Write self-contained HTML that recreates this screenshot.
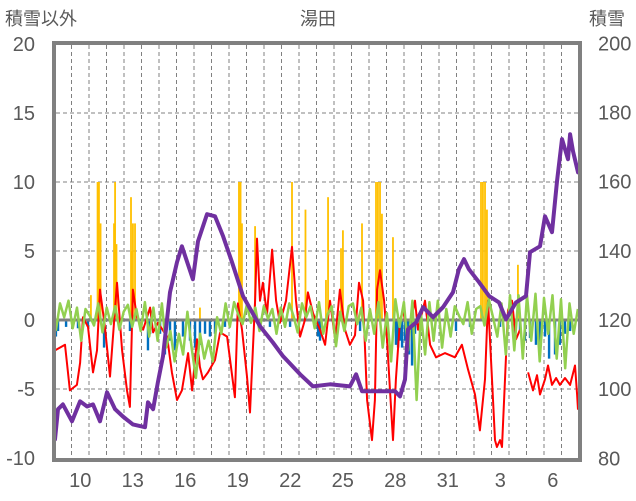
<!DOCTYPE html>
<html><head><meta charset="utf-8"><style>
html,body{margin:0;padding:0;background:#fff;}
svg{display:block;font-family:"Liberation Sans","Noto Sans CJK JP",sans-serif;}
</style></head><body>
<svg id="chart" width="636" height="501" viewBox="0 0 636 501" xmlns="http://www.w3.org/2000/svg">
<text x="5" y="25" font-size="18" fill="#595959">積雪以外</text>
<text x="318" y="25" font-size="18" fill="#595959" text-anchor="middle">湯田</text>
<text x="589" y="25" font-size="18" fill="#595959">積雪</text>
<g id="grid"></g>
<g id="bars"></g>
<line x1="54" y1="320" x2="580" y2="320" stroke="#808080" stroke-width="3"/>
<g id="lines"></g>
<rect x="54" y="43" width="526" height="417" fill="none" stroke="#808080" stroke-width="4"/>
<g id="axes"></g>
</svg>
<script>
const leftTicks=[20,15,10,5,0,-5,-10];
const rightTicks=[200,180,160,140,120,100,80];
const xLabelDays=[0,3,6,9,12,15,18,21,24,27];
const xLabels=["10","13","16","19","22","25","28","31","3","6"];
const purpleT=[-0.94,-0.77,-0.49,0.03,0.49,0.89,1.23,1.63,2.03,2.49,2.94,3.51,4.2,4.37,4.66,4.94,5.23,5.63,6.03,6.31,6.94,7.23,7.74,8.2,8.66,9.17,9.8,10.77,11.51,12.09,13.06,13.8,14.77,15.91,16.26,16.6,18.49,18.77,19.06,19.23,19.69,20.09,20.66,21.23,21.8,22.14,22.43,22.71,23.29,23.86,24.43,24.83,25.4,25.97,26.2,26.77,27.06,27.46,27.74,28.03,28.37,28.49,28.66,28.94];
const purpleV=[85.5,94.2,95.6,90.7,96.5,95.0,95.6,90.7,99.1,94.2,92.1,89.8,89.0,96.2,94.2,102.0,109.5,128.0,136.7,141.3,131.8,142.8,150.6,150.0,144.2,136.7,126.9,118.2,113.5,109.5,104.3,100.8,101.4,100.8,104.3,99.4,99.4,97.9,102.8,117.3,119.3,123.7,120.8,123.7,128.0,134.7,137.6,134.7,130.9,126.9,125.1,120.2,125.1,126.9,139.6,141.3,150.0,145.4,160.1,172.3,166.5,173.7,168.8,162.7];
const redT=[-0.94,-0.37,-0.09,0.31,0.49,0.66,0.94,1.23,1.46,1.63,1.91,2.2,2.6,2.89,3.17,3.34,3.51,3.74,4.09,4.49,4.66,4.94,5.46,5.74,6.03,6.31,6.66,6.89,7.17,7.34,7.51,7.8,8.2,8.49,8.89,9.34,9.51,9.74,10.03,10.2,10.49,10.6,10.77,10.94,11.17,11.46,11.69,11.91,12.26,12.6,12.83,13.06,13.34,13.51,13.8,14.2,14.49,14.77,15.06,15.34,15.63,15.91,16.2,16.43,16.66,16.89,17.17,17.34,17.46,17.63,17.86,18.03,18.2,18.37,18.54,18.77,18.94,19.23,19.63,19.8,20.2,20.49,20.83,21.34,21.91,22.31,22.66,23.06,23.34,23.63,23.8,24.03,24.2,24.31,24.49,24.6,24.77,24.94,25.17,25.4,25.63,25.8,26.09,26.37,26.6,26.77,27.06,27.23,27.46,27.69,27.91,28.2,28.49,28.77,28.89,28.94];
const redV=[-2.2,-1.8,-5.1,-4.7,-3.1,0.2,-0.5,-3.8,-2.2,2.2,-0.5,-4.1,2.7,-2.2,-5.1,-6.3,2.2,0.2,-0.7,0.9,-0.9,-0.2,-1.2,-3.8,-5.8,-5.1,-2.4,-5.1,-1.4,-3.4,-4.3,-3.8,-2.9,-0.9,-1.2,-5.6,1.2,-0.7,-4.1,-6.7,1.4,5.9,1.4,2.7,0.4,5.1,1.4,-0.2,1.4,5.3,1.4,-1.2,0,2.0,0.5,-0.7,-1.8,1.4,-1.4,2.2,-0.7,-1.8,-1.1,2.7,1.4,-5.8,-8.7,-5.8,2.2,3.6,1.4,-1.4,-5.1,-8.7,-4.3,0,0.7,-1.1,1.4,-0.7,1.4,-1.8,-2.7,-2.4,-2.7,-1.8,-3.6,-5.4,-8.0,-4.3,1.4,-4.3,-8.7,-9.2,-8.7,-9.2,-4.3,0.7,1.4,-1.4,-0.7,null,-3.8,-5.1,-4.0,-5.4,-4.3,-3.3,-4.7,-4.2,-4.7,-4.2,-4.7,-3.3,-5.4,-6.5];
const greenStart=-0.9;
const greenStep=0.2426;
const greenV=[-0.8,1.2,0.2,1.4, -0.6,0.9,-1.5,0.8, 0.3,-0.4,1.2,-0.9, 0.9,-0.3,1.0,-0.7, 0.6,1.1,-0.5,0.8, -0.8,1.3,-1.2,0.9, -1.5,1.2,-2.0,-0.8, -3.0,-1.0,-2.5,0.6, -2.0,-4.2,-1.0,-2.8, -1.5,-3.0,0.2,-1.0, 1.2,-0.5,1.3,0.4, -0.3,1.1,-0.2,0.9, -0.8,1.0,0.1,0.8, -1.0,0.9,-0.5,1.2, 0.3,-0.9,1.2,0.2, 1.0,-0.6,1.3,-1.0, 0.4,1.0,-1.9,0.6, -0.8,1.0,1.2,-0.3, 0.9,-1.5,0.8,-1.0, 1.3,-2.0,0.5,-3.0, 1.5,-0.5,1.3,-2.2, 1.4,-5.8,0.5,-2.5, 1.3,-1.5,1.4,-2.0, 0.8,-1.2,1.0,0.3, -0.3,1.3,-1.0,0.8, 1.0,-0.4,1.5,0.2, -1.2,1.2,-2.5,1.8, -2.2,1.8,-2.8,1.8, -1.5,1.9,-3.0,1.6, -1.0,1.8,-2.8,1.5, -3.5,1.2,-1.0,0.8];
const yellowT=[1.11,1.49,1.57,1.66,2.43,2.49,2.57,3.4,3.46,3.51,3.63,7.34,9.57,9.66,9.74,10.49,12.6,13.37,14.54,14.66,15.4,15.51,16.6,17.4,17.51,17.63,17.74,18.37,23.4,23.51,23.63,23.74,25.51];
const yellowV=[1.8,10,10,7,7,10,5.5,8.9,5,7,7,0.9,10,10,7,6.8,10,8,2.9,8.9,5.2,6.5,7,10,10,10,7.7,6,10,10,10,8,4];
const blueT=[-0.89,-0.77,-0.31,0.37,0.94,1.86,3.34,4.37,4.49,5.06,5.34,5.63,5.91,6.37,6.77,7.06,7.34,7.63,7.91,8.2,8.77,11.34,12.49,14.09,14.2,16.49,18.54,18.66,18.77,18.89,19.06,19.17,19.29,19.46,19.63,19.91,21.97,22.77,24.49,25.34,25.63,25.91,26.2,26.54,26.77,27.06,27.29,27.63,27.91,28.2,28.49];
const blueV=[-1.2,-0.8,-0.5,-0.6,-0.5,-2.0,-0.8,-2.2,-1.0,-1.0,-2.5,-1.5,-2.2,-1.2,-1.5,-2.0,-1.8,-1.0,-1.2,-1.0,-0.5,-0.5,-0.5,-1.2,-1.5,-0.8,-1.8,-2.0,-1.5,-2.0,-1.5,-1.8,-2.5,-3.3,-1.0,-0.8,-0.8,-0.5,-0.5,-1.0,-0.8,-1.5,-1.3,-1.8,-2.0,-1.2,-2.8,-2.5,-1.8,-1.0,-0.8];

const NS="http://www.w3.org/2000/svg";
function xOf(t){return 71.5+17.5*t;}
function yL(v){return 320-13.8*v;}
function yR(v){return 320-(v-120)*3.4583;}
function mk(tag,attrs,parent){const e=document.createElementNS(NS,tag);for(const k in attrs)e.setAttribute(k,attrs[k]);parent.appendChild(e);return e;}
const grid=document.getElementById('grid'),bars=document.getElementById('bars'),lines=document.getElementById('lines'),axes=document.getElementById('axes');
for(let k=0;k<=28;k++){
  const l=mk('line',{x1:xOf(k),x2:xOf(k),y1:45,y2:458,stroke:'#808080','stroke-width':1,'stroke-dasharray':'4,3'},grid);
  
  
}
leftTicks.forEach(v=>{
  if(v!==0&&v!==20&&v!==-10){
    const l=mk('line',{x1:56,x2:578,y1:yL(v),y2:yL(v),stroke:'#808080','stroke-width':1,'stroke-dasharray':'4,3'},grid);
    
    
  }
  const t=mk('text',{x:35,y:yL(v)+7,'font-size':20,fill:'#595959','text-anchor':'end'},axes);
  t.textContent=v;
  
  
});
rightTicks.forEach(v=>{
  const t=mk('text',{x:598,y:yR(v)+7,'font-size':20,fill:'#595959'},axes);
  t.textContent=v;
  
  
});
xLabelDays.forEach((d,i)=>{
  const t=mk('text',{x:xOf(d+0.5),y:487,'font-size':20,fill:'#595959','text-anchor':'middle'},axes);
  t.textContent=xLabels[i];
  
  
});
yellowT.forEach((t,i)=>{
  const y=yL(yellowV[i]);
  const r=mk('rect',{x:xOf(t)-0.9,y:y,width:1.8,height:320-y,fill:'#ffc000'},bars);
  
  
});
blueT.forEach((t,i)=>{
  const y=yL(blueV[i]);
  const r=mk('rect',{x:xOf(t)-1.2,y:320,width:2.4,height:y-320,fill:'#0070c0'},bars);
  
  
});
function pathFrom(ts,vs,yf){
  let d='',pen=false;
  ts.forEach((t,i)=>{
    if(vs[i]===null){pen=false;return;}
    d+=(pen?'L':'M')+xOf(t).toFixed(1)+','+yf(vs[i]).toFixed(1);pen=true;
  });
  return d;
}
const red=mk('path',{d:pathFrom(redT,redV,yL),fill:'none',stroke:'#ff0000','stroke-width':2,'stroke-linejoin':'round'},lines);


const greenT=greenV.map((v,i)=>greenStart+i*greenStep);
const green=mk('path',{d:pathFrom(greenT,greenV,yL),fill:'none',stroke:'#92d050','stroke-width':2.5,'stroke-linejoin':'round'},lines);


const purple=mk('path',{d:pathFrom(purpleT,purpleV,yR),fill:'none',stroke:'#7030a0','stroke-width':4,'stroke-linejoin':'round','stroke-linecap':'round'},lines);


</script>
</body></html>
